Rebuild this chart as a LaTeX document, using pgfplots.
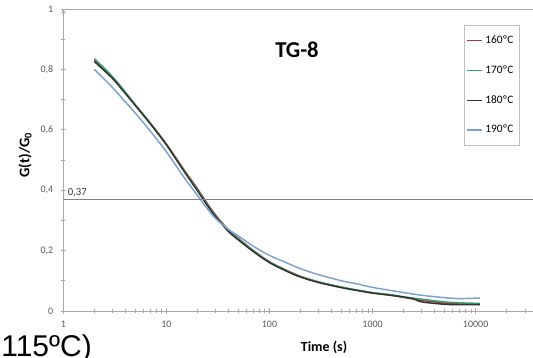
\documentclass[border=0pt]{standalone}
\usepackage{pgfplots}
\pgfplotsset{compat=1.18}
\usepackage{fontspec}
\setmainfont{Carlito}
\newfontfamily\arialfont{Liberation Sans}
\definecolor{cRed}{HTML}{A83A38}
\definecolor{cGreen}{HTML}{35A070}
\definecolor{cBlack}{HTML}{333333}
\definecolor{cBlue}{HTML}{7CA1CC}
\definecolor{axgray}{HTML}{A6A6A6}
\definecolor{txtgray}{HTML}{595959}
\begin{document}
\begin{tikzpicture}
\begin{axis}[
  at={(0,0)}, anchor=south west,
  scale only axis, width=352.3pt, height=226.5pt,
  xmode=log, log basis x=10,
  xmin=1, xmax=36000, ymin=0, ymax=1,
  axis x line=box, axis y line=left,
  xtick pos=bottom, ytick pos=left,
  axis line style={axgray, line width=0.6pt},
  every inner x axis line/.append style={-},
  every inner y axis line/.append style={-},
  xtick={1,10,100,1000,10000},
  xticklabels={1,10,100,1000,10000},
  minor xtick={2,3,4,5,6,7,8,9,20,30,40,50,60,70,80,90,200,300,400,500,600,700,800,900,2000,3000,4000,5000,6000,7000,8000,9000,20000,30000},
  ytick={0,0.2,0.4,0.6,0.8,1},
  yticklabels={0,{0,2},{0,4},{0,6},{0,8},1},
  minor ytick={0.1,0.3,0.5,0.7,0.9},
  tick align=center,
  major tick length=4pt, minor tick length=3pt,
  tick style={axgray, line width=0.5pt},
  ticklabel style={font=\fontsize{7.5}{9}\selectfont, text=txtgray},
  xticklabel style={yshift=-2pt},
  yticklabel style={xshift=-2pt},
  xlabel={\textbf{Time (s)}},
  xlabel style={at={(axis description cs:0.555,-0.119)}, anchor=center, font=\fontsize{10.5}{12}\selectfont},
  ylabel={\textbf{G(t)/G\textsubscript{0}}},
  ylabel style={at={(axis description cs:-0.0815,0.517)}, anchor=center, font=\fontsize{11}{13}\selectfont},
  legend style={at={(axis description cs:0.853,0.947)}, anchor=north west, draw=axgray!70, font=\fontsize{8.5}{10}\selectfont, row sep=11pt, inner xsep=2pt, inner ysep=6pt},
  legend cell align=left,
  legend image code/.code={\draw[#1, line width=0.9pt] (0pt,0pt) -- (11pt,0pt);},
  clip=false,
]
\addplot[cRed, line width=1.1pt, smooth] coordinates {
(2,0.830) (3,0.772) (4,0.722) (5,0.682) (7,0.622) (10,0.553) (15,0.465) (20,0.405) (25,0.355) (30,0.318) (40,0.268) (50,0.240) (70,0.200) (100,0.163) (150,0.133) (200,0.115) (300,0.096) (500,0.079) (700,0.069) (1000,0.060) (1500,0.052) (2000,0.045) (3000,0.035) (5000,0.026) (7000,0.023) (11000,0.022)};
\addlegendentry{160ºC}
\addplot[cGreen, line width=1.1pt, smooth] coordinates {
(2,0.836) (3,0.776) (4,0.725) (5,0.683) (7,0.621) (10,0.551) (15,0.462) (20,0.401) (25,0.352) (30,0.315) (40,0.266) (50,0.238) (70,0.199) (100,0.162) (150,0.132) (200,0.114) (300,0.096) (500,0.079) (700,0.070) (1000,0.061) (1500,0.054) (2000,0.047) (3000,0.039) (5000,0.030) (7000,0.027) (11000,0.025)};
\addlegendentry{170ºC}
\addplot[cBlack, line width=1.1pt, smooth] coordinates {
(2,0.826) (3,0.770) (4,0.720) (5,0.680) (7,0.619) (10,0.550) (15,0.460) (20,0.398) (25,0.349) (30,0.312) (40,0.263) (50,0.235) (70,0.196) (100,0.160) (150,0.130) (200,0.112) (300,0.094) (500,0.077) (700,0.068) (1000,0.059) (1500,0.052) (2000,0.046) (2500,0.040) (3000,0.030) (5000,0.022) (7000,0.021) (11000,0.021)};
\addlegendentry{180ºC}
\addplot[cBlue, line width=1.1pt, smooth] coordinates {
(2,0.800) (3,0.740) (4,0.692) (5,0.655) (7,0.595) (10,0.527) (15,0.440) (20,0.383) (25,0.338) (30,0.306) (40,0.270) (50,0.248) (70,0.214) (100,0.184) (150,0.158) (200,0.140) (300,0.120) (500,0.100) (700,0.090) (1000,0.078) (1500,0.068) (2000,0.061) (3000,0.052) (5000,0.044) (7000,0.041) (11000,0.043)};
\addlegendentry{190ºC}
\addplot[gray, line width=0.8pt, forget plot] coordinates {(1,0.37) (36000,0.37)};
\node[anchor=south west, font=\fontsize{8}{9}\selectfont, text=cBlack, inner sep=1.5pt] at (axis cs:1.05,0.37) {0,37};
\node[font=\bfseries\fontsize{17}{20}\selectfont] at (axis description cs:0.4975,0.864) {TG-8};
\end{axis}
\node[anchor=base west, font=\arialfont\fontsize{22.5}{26}\selectfont, inner sep=0pt] at (-46.7pt,-34pt) {115ºC)};
\pgfresetboundingbox
\useasboundingbox (-47.5pt,-35.25pt) rectangle (352.3pt,233.25pt);
\end{tikzpicture}
\end{document}
